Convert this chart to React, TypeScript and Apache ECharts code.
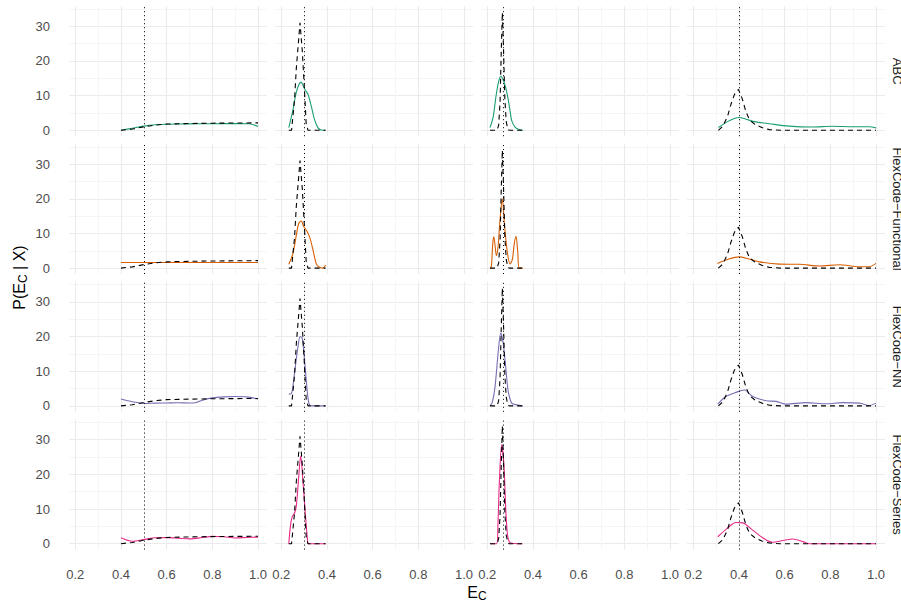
import React, { useEffect, useRef } from "react";
import * as echarts from "echarts";

type Pt = [number, number];

const methods = ["ABC", "FlexCode−Functional", "FlexCode−NN", "FlexCode−Series"];
const methodColors = ["#1B9E77", "#D95F02", "#7570B3", "#E7298A"];
const trueValues = [0.5, 0.3, 0.266, 0.4];

const xTickValues = [0.2, 0.3, 0.4, 0.5, 0.6, 0.7, 0.8, 0.9, 1.0];
const xLabelValues = [0.2, 0.4, 0.6, 0.8, 1.0];
const yTickValues = [0, 5, 10, 15, 20, 25, 30, 35];
const yLabelValues = [0, 10, 20, 30];

// true densities (dashed), one per column
const truthCol1: Pt[] = [[0.4, 0], [0.45, 0.35], [0.5, 1.0], [0.55, 1.5], [0.6, 1.8], [0.7, 1.95], [0.8, 2.05], [0.9, 2.1], [1.0, 2.15]];
const truthCol2: Pt[] = [[0.233, 0], [0.245, 0], [0.258, 8.7], [0.266, 18], [0.276, 26], [0.282, 31], [0.292, 23], [0.3, 13.6], [0.309, 2], [0.317, 0], [0.394, 0]];
const truthCol3: Pt[] = [[0.212, 0], [0.243, 0], [0.25, 1.5], [0.256, 8], [0.261, 22], [0.266, 34], [0.271, 24], [0.277, 9], [0.283, 2.5], [0.29, 0.3], [0.296, 0], [0.355, 0]];
const truthCol4: Pt[] = [[0.31, 0], [0.33, 1.2], [0.35, 4], [0.365, 7.5], [0.38, 10.3], [0.398, 11.8], [0.415, 9], [0.43, 5.5], [0.446, 3], [0.47, 1.7], [0.5, 0.8], [0.533, 0.2], [0.58, 0], [1.0, 0]];

// ABC estimates
const abcCol1: Pt[] = [[0.4, 0], [0.45, 0.6], [0.5, 1.2], [0.55, 1.6], [0.6, 1.75], [0.7, 1.85], [0.8, 1.9], [0.9, 1.95], [0.96, 1.9], [1.0, 1.1]];
const abcCol2: Pt[] = [[0.233, 0.8], [0.245, 4], [0.251, 5.8], [0.258, 8.5], [0.266, 11], [0.276, 13], [0.287, 13.9], [0.296, 12.8], [0.305, 11.6], [0.317, 10.4], [0.332, 6.8], [0.346, 3], [0.361, 0.7], [0.375, 0.1], [0.394, 0]];
const abcCol3: Pt[] = [[0.212, 0.8], [0.226, 3.9], [0.238, 9.7], [0.248, 13.5], [0.259, 15.6], [0.27, 14.5], [0.28, 12.5], [0.29, 9.5], [0.3, 5.5], [0.307, 2.8], [0.321, 1], [0.336, 0.3], [0.355, 0]];
const abcCol4: Pt[] = [[0.31, 0.8], [0.35, 2.5], [0.38, 3.4], [0.4, 3.7], [0.43, 3.2], [0.467, 2.5], [0.533, 1.9], [0.62, 1.2], [0.72, 0.95], [0.81, 1.15], [0.9, 1.0], [0.97, 1.0], [1.0, 0.7]];

// FlexCode-Functional estimates
const functionalCol1: Pt[] = [[0.4, 1.6], [0.7, 1.6], [1.0, 1.6]];
const functionalCol2: Pt[] = [[0.233, 1.1], [0.251, 4.2], [0.266, 9.5], [0.276, 12.8], [0.288, 13.6], [0.298, 12], [0.31, 10.9], [0.324, 9], [0.339, 5.2], [0.353, 1.3], [0.365, 0.3], [0.382, 0], [0.394, 0.9]];
const functionalCol3: Pt[] = [[0.212, 0], [0.218, 0.5], [0.224, 7], [0.229, 9], [0.235, 6], [0.24, 3.6], [0.247, 6], [0.256, 14], [0.266, 20], [0.276, 12], [0.288, 4.5], [0.3, 1.2], [0.31, 2.5], [0.318, 7], [0.326, 9.2], [0.333, 5], [0.34, 0], [0.355, 0]];
const functionalCol4: Pt[] = [[0.306, 1.35], [0.35, 2.5], [0.4, 3.25], [0.44, 2.7], [0.49, 1.8], [0.577, 1.15], [0.665, 1.1], [0.753, 0.6], [0.84, 0.95], [0.928, 0.4], [0.97, 0.4], [1.0, 1.35]];

// FlexCode-NN estimates
const nnCol1: Pt[] = [[0.4, 2.0], [0.45, 1.2], [0.5, 0.7], [0.55, 0.8], [0.6, 0.85], [0.65, 0.9], [0.7, 0.85], [0.73, 1.0], [0.76, 1.7], [0.8, 2.3], [0.85, 2.6], [0.9, 2.7], [0.95, 2.6], [1.0, 2.0]];
const nnCol2: Pt[] = [[0.233, 3.4], [0.244, 3.5], [0.258, 9.4], [0.273, 17], [0.283, 20], [0.292, 19.5], [0.302, 13.2], [0.312, 5.5], [0.321, 0.8], [0.332, 0], [0.394, 0]];
const nnCol3: Pt[] = [[0.212, 0], [0.222, 1], [0.234, 5.5], [0.248, 15.6], [0.259, 21], [0.27, 18], [0.282, 10.3], [0.292, 4.1], [0.307, 0.8], [0.329, 0.3], [0.355, 0]];
const nnCol4: Pt[] = [[0.307, 0.5], [0.343, 2.7], [0.387, 3.9], [0.424, 4.6], [0.46, 2.7], [0.519, 1.5], [0.563, 1.3], [0.607, 0.5], [0.694, 0.95], [0.782, 0.6], [0.855, 0.95], [0.928, 0.8], [0.97, 0.1], [1.0, 0.8]];

// FlexCode-Series estimates
const seriesCol1: Pt[] = [[0.4, 1.7], [0.45, 0.7], [0.5, 1.2], [0.55, 1.7], [0.6, 1.75], [0.65, 1.6], [0.7, 1.4], [0.75, 1.7], [0.8, 2.1], [0.85, 2.0], [0.9, 1.65], [0.95, 1.8], [1.0, 1.9]];
const seriesCol2: Pt[] = [[0.233, 0], [0.24, 5], [0.248, 7.8], [0.258, 8.8], [0.266, 11], [0.275, 18], [0.285, 25.3], [0.295, 18], [0.305, 9], [0.315, 1], [0.319, 0], [0.394, 0]];
const seriesCol3: Pt[] = [[0.212, 0], [0.241, 0], [0.247, 6], [0.253, 17.8], [0.263, 28.5], [0.273, 22.6], [0.285, 5.4], [0.3, 0.3], [0.353, 0]];
const seriesCol4: Pt[] = [[0.307, 2.0], [0.35, 4.5], [0.387, 6.1], [0.416, 6.0], [0.46, 3.9], [0.504, 1.7], [0.548, 0.4], [0.592, 0.9], [0.636, 1.35], [0.68, 0.6], [0.709, 0], [1.0, 0]];

const truthByCol = [truthCol1, truthCol2, truthCol3, truthCol4];
const estimates = [
  [abcCol1, abcCol2, abcCol3, abcCol4],
  [functionalCol1, functionalCol2, functionalCol3, functionalCol4],
  [nnCol1, nnCol2, nnCol3, nnCol4],
  [seriesCol1, seriesCol2, seriesCol3, seriesCol4],
];

const FONT = "'Liberation Sans', Arial, Helvetica, sans-serif";
const X_MIN = 0.1726;
const X_MAX = 1.0394;
const Y_MIN = -1.705;
const Y_MAX = 35.8;
const colLefts = [69, 275, 481, 687];
const PANEL_W = 198;
const PANEL_H = 130;
const rowTops = [6.2, 144, 281.8, 419.6];
const MAJOR = "#EBEBEB";
const MINOR = "#F5F5F5";

export default function App() {
  const ref = useRef<HTMLDivElement>(null);
  useEffect(() => {
    document.body.style.margin = "0";
    if (!ref.current) return;
    const chart = echarts.init(ref.current, null, { renderer: "svg" });
    const grid: any[] = [];
    const xAxis: any[] = [];
    const yAxis: any[] = [];
    const series: any[] = [];
    const graphic: any[] = [];
    for (let r = 0; r < 4; r++) {
      for (let c = 0; c < 4; c++) {
        const idx = r * 4 + c;
        grid.push({ left: colLefts[c], top: rowTops[r], width: PANEL_W, height: PANEL_H });
        xAxis.push({
          type: "value",
          gridIndex: idx,
          min: X_MIN,
          max: X_MAX,
          axisLine: { show: false },
          axisTick: { show: false, customValues: xTickValues },
          axisLabel: {
            show: r === 3,
            customValues: xLabelValues,
            formatter: (v: number) => v.toFixed(1),
            margin: 18,
            color: "#4D4D4D",
            fontSize: 13,
            fontFamily: FONT,
          },
          splitLine: { show: true, lineStyle: { color: [MAJOR, MINOR], width: 1.1 } },
        });
        yAxis.push({
          type: "value",
          gridIndex: idx,
          min: Y_MIN,
          max: Y_MAX,
          axisLine: { show: false },
          axisTick: { show: false, customValues: yTickValues },
          axisLabel: {
            show: c === 0,
            customValues: yLabelValues,
            formatter: (v: number) => String(Math.round(v)),
            margin: 19,
            color: "#4D4D4D",
            fontSize: 13,
            fontFamily: FONT,
          },
          splitLine: { show: true, lineStyle: { color: [MAJOR, MINOR], width: 1.1 } },
        });
        series.push({
          type: "line",
          xAxisIndex: idx,
          yAxisIndex: idx,
          data: estimates[r][c],
          symbol: "none",
          smooth: 0.3,
          lineStyle: { color: methodColors[r], width: 1.1 },
          z: 2,
          silent: true,
        });
        series.push({
          type: "line",
          xAxisIndex: idx,
          yAxisIndex: idx,
          data: truthByCol[c],
          symbol: "none",
          lineStyle: { color: "#000000", width: 1.1, type: [5, 4] },
          z: 3,
          silent: true,
          markLine: {
            silent: true,
            symbol: ["none", "none"],
            label: { show: false },
            lineStyle: { color: "#000000", width: 1, type: [1, 3] },
            data: [{ xAxis: trueValues[c] }],
          },
        });
      }
      graphic.push({
        type: "text",
        x: 897.5,
        y: rowTops[r] + PANEL_H / 2,
        rotation: -Math.PI / 2,
        style: {
          text: methods[r],
          fontSize: 13,
          fontFamily: FONT,
          fill: "#1A1A1A",
          textAlign: "center",
          textVerticalAlign: "middle",
        },
      });
    }
    const rich = {
      n: { fontSize: 16, lineHeight: 20, fontFamily: FONT, fill: "#000000" },
      s: { fontSize: 12, lineHeight: 12, verticalAlign: "bottom", fontFamily: FONT, fill: "#000000" },
    };
    graphic.push({
      type: "text",
      x: 19,
      y: 277.5,
      rotation: Math.PI / 2,
      style: {
        text: "{n|P(E}{s|C}{n| | X)}",
        rich,
        textAlign: "center",
        textVerticalAlign: "middle",
      },
    });
    graphic.push({
      type: "text",
      x: 477,
      y: 592,
      style: {
        text: "{n|E}{s|C}",
        rich,
        textAlign: "center",
        textVerticalAlign: "middle",
      },
    });
    chart.setOption({
      animation: false,
      backgroundColor: "#FFFFFF",
      grid,
      xAxis,
      yAxis,
      series,
      graphic,
    });
    return () => chart.dispose();
  }, []);
  return <div ref={ref} style={{ width: 901, height: 600 }} />;
}
